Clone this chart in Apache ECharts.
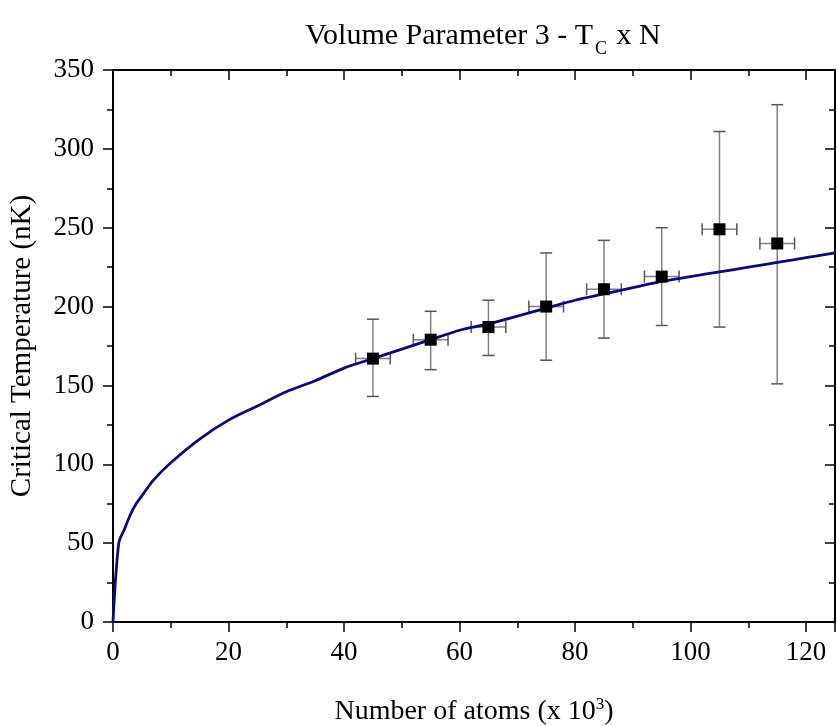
<!DOCTYPE html>
<html>
<head>
<meta charset="utf-8">
<script src="https://cdn.jsdelivr.net/npm/echarts@6/dist/echarts.min.js"></script>
<style>
  html, body { margin: 0; padding: 0; background: #fff; }
  #chart { width: 837px; height: 726px; }
</style>
</head>
<body>
<div id="chart"></div>
<script>
// Measured critical temperatures (nK) against atom number (x 10^3)
const atomNumbers = [45, 55, 65, 75, 85, 95, 105, 115];
const tcValues    = [167, 179, 187, 200, 211, 219, 249, 240];
const tcLow       = [143, 160, 169, 166, 180, 188, 187, 151];
const tcHigh      = [192, 197, 204, 234, 242, 250, 311, 328];
const nErr        = [3, 3, 3, 3, 3, 3, 3, 3];

// Theoretical Tc curve
const curveN  = [0, 1, 2, 3, 4, 5, 7, 10, 15, 20, 25, 30, 35, 40, 45, 50, 55, 60, 65, 70, 75, 80, 85, 90, 95, 100, 105, 110, 115, 120, 125];
const curveTc = [0, 50, 59, 68, 75, 80, 90, 101, 116, 128, 137, 146, 153, 161, 167, 173, 179, 185, 189, 194, 199, 204, 208, 212, 216, 219, 222, 225, 228, 231, 234];

const FONT = 'Liberation Serif';

const chart = echarts.init(document.getElementById('chart'));

const errData = atomNumbers.map((n, i) => [n, tcValues[i], tcLow[i], tcHigh[i], n - nErr[i], n + nErr[i]]);
const pointData = atomNumbers.map((n, i) => [n, tcValues[i]]);
const lineData = curveN.map((n, i) => [n, curveTc[i]]);

function axisBase(extra) {
  return Object.assign({
    type: 'value',
    axisLine: { show: true, onZero: false, lineStyle: { color: '#000', width: 2 } },
    splitLine: { show: false },
    minorSplitLine: { show: false }
  }, extra);
}

const tickStyle = { color: '#000', width: 1.5 };

const option = {
  animation: false,
  backgroundColor: '#fff',
  title: {
    text: 'Volume Parameter 3 - T{sub|C} x N',
    left: 478, top: 9, textAlign: 'center',
    textStyle: {
      fontFamily: FONT, fontSize: 30, fontWeight: 'normal', color: '#000',
      rich: { sub: { fontFamily: FONT, fontSize: 18, color: '#000', padding: [26, 2, 0, 2] } }
    }
  },
  grid: { left: 113, right: 2, top: 70, bottom: 104, outerBoundsMode: 'none', containLabel: false },
  xAxis: [
    axisBase({
      min: 0, max: 125, interval: 20, position: 'bottom',
      axisTick: { inside: false, length: 10, lineStyle: tickStyle },
      minorTick: { show: true, splitNumber: 2, length: 6, lineStyle: tickStyle },
      axisLabel: { fontFamily: FONT, fontSize: 27, color: '#000', margin: 17, showMaxLabel: false },
      name: 'Number of atoms (x 10{sup|3})',
      nameLocation: 'middle', nameGap: 74,
      nameTextStyle: {
        fontFamily: FONT, fontSize: 28, color: '#000',
        rich: { sup: { fontFamily: FONT, fontSize: 17, color: '#000', padding: [0, 0, 14, 0] } }
      }
    }),
    axisBase({
      min: 0, max: 125, interval: 20, position: 'top',
      axisTick: { inside: true, length: 10, lineStyle: tickStyle },
      minorTick: { show: true, splitNumber: 2, length: 6, lineStyle: tickStyle },
      axisLabel: { show: false }
    })
  ],
  yAxis: [
    axisBase({
      min: 0, max: 350, interval: 50, position: 'left',
      axisTick: { inside: false, length: 10, lineStyle: tickStyle },
      minorTick: { show: true, splitNumber: 2, length: 6, lineStyle: tickStyle },
      axisLabel: { fontFamily: FONT, fontSize: 27, color: '#000', margin: 19 },
      name: 'Critical Temperature (nK)',
      nameLocation: 'middle', nameGap: 76,
      nameTextStyle: { fontFamily: FONT, fontSize: 29, color: '#000' }
    }),
    axisBase({
      min: 0, max: 350, interval: 50, position: 'right',
      axisTick: { inside: true, length: 10, lineStyle: tickStyle },
      minorTick: { show: true, splitNumber: 2, length: 6, lineStyle: tickStyle },
      axisLabel: { show: false }
    })
  ],
  series: [
    {
      type: 'custom',
      xAxisIndex: 0, yAxisIndex: 0,
      data: errData,
      z: 2,
      renderItem: function (params, api) {
        const x = api.value(0), y = api.value(1);
        const lo = api.coord([x, api.value(2)]);
        const hi = api.coord([x, api.value(3)]);
        const left = api.coord([api.value(4), y]);
        const right = api.coord([api.value(5), y]);
        const cap = 6;
        const bar = { stroke: '#808080', lineWidth: 1.5, fill: null };
        const capStyle = { stroke: '#555', lineWidth: 1.5, fill: null };
        return {
          type: 'group',
          children: [
            { type: 'line', shape: { x1: lo[0], y1: lo[1], x2: hi[0], y2: hi[1] }, style: bar },
            { type: 'line', shape: { x1: lo[0] - cap, y1: lo[1], x2: lo[0] + cap, y2: lo[1] }, style: capStyle },
            { type: 'line', shape: { x1: hi[0] - cap, y1: hi[1], x2: hi[0] + cap, y2: hi[1] }, style: capStyle },
            { type: 'line', shape: { x1: left[0], y1: left[1], x2: right[0], y2: right[1] }, style: bar },
            { type: 'line', shape: { x1: left[0], y1: left[1] - cap, x2: left[0], y2: left[1] + cap }, style: capStyle },
            { type: 'line', shape: { x1: right[0], y1: right[1] - cap, x2: right[0], y2: right[1] + cap }, style: capStyle }
          ]
        };
      }
    },
    {
      type: 'line',
      xAxisIndex: 0, yAxisIndex: 0,
      data: lineData,
      smooth: 0.3,
      showSymbol: false,
      z: 3,
      lineStyle: { color: '#0a0a80', width: 2.8 }
    },
    {
      type: 'scatter',
      xAxisIndex: 0, yAxisIndex: 0,
      data: pointData,
      symbol: 'rect',
      symbolSize: 12,
      z: 4,
      itemStyle: { color: '#000', opacity: 1 }
    }
  ]
};

chart.setOption(option);
</script>
</body>
</html>
